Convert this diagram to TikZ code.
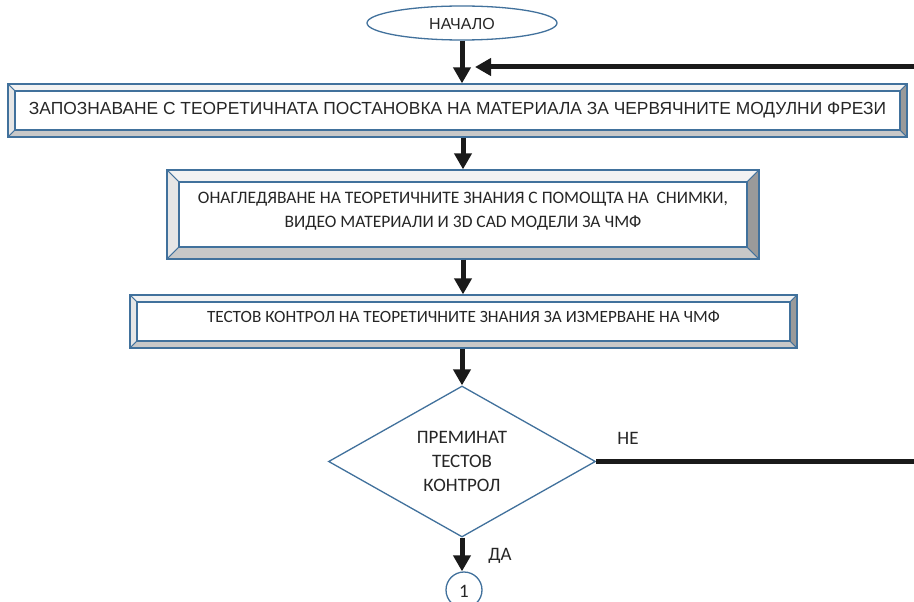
\documentclass[tikz,border=0pt]{standalone}
\usepackage{fontspec}
\usepackage{graphicx}
\setmainfont{Carlito}
\newfontfamily\arialf{Liberation Sans}
\usetikzlibrary{shapes.geometric,arrows.meta}
\definecolor{bblue}{HTML}{41719C}
\definecolor{arrowc}{HTML}{1A1A1A}
\definecolor{bevtop}{HTML}{F2F2F2}
\definecolor{bevleft}{HTML}{E6E6E6}
\definecolor{bevbot}{HTML}{C8C8C8}
\definecolor{bevright}{HTML}{9A9A9A}
\newcommand\bevelpic[1]{%
  \coordinate (bsw) at (path picture bounding box.south west);
  \coordinate (bne) at (path picture bounding box.north east);
  \coordinate (bnw) at (path picture bounding box.north west);
  \coordinate (bse) at (path picture bounding box.south east);
  \coordinate (isw) at ([xshift=#1pt,yshift=#1pt]bsw);
  \coordinate (ine) at ([xshift=-#1pt,yshift=-#1pt]bne);
  \coordinate (inw) at ([xshift=#1pt,yshift=-#1pt]bnw);
  \coordinate (ise) at ([xshift=-#1pt,yshift=#1pt]bse);
  \filldraw[fill=bevtop,draw=bblue,line width=0.8pt] (bnw) -- (bne) -- (ine) -- (inw) -- cycle;
  \filldraw[fill=bevleft,draw=bblue,line width=0.8pt] (bnw) -- (inw) -- (isw) -- (bsw) -- cycle;
  \filldraw[fill=bevbot,draw=bblue,line width=0.8pt] (bsw) -- (isw) -- (ise) -- (bse) -- cycle;
  \filldraw[fill=bevright,draw=bblue,line width=0.8pt] (bse) -- (ise) -- (ine) -- (bne) -- cycle;
  \draw[bblue,line width=1.3pt] (isw) rectangle (ine);
}
\tikzset{
  bevelbox/.style={rectangle, draw=bblue, line width=1.3pt, fill=white,
    inner sep=0pt, path picture={\bevelpic{#1}}},
  conn/.style={draw=arrowc, line width=5pt, -{Triangle[length=16pt,width=17pt]}},
  lbl/.style={inner sep=0pt, font=\fontsize{19}{23}\selectfont, text=black!85},
}
\begin{document}
\begin{tikzpicture}[x=1pt,y=-1pt]
\useasboundingbox (0,0) rectangle (914,602);
\fill[white] (0,0) rectangle (914,602);

\node[ellipse, draw=bblue, line width=1.3pt, fill=white, minimum width=190pt, minimum height=34pt,
  inner sep=0pt, font=\arialf\fontsize{16}{19}\selectfont, text=black!85] (start) at (462,23)
  {\raisebox{-6.7pt}[0pt][0pt]{НАЧАЛО}};

\node[bevelbox=7, minimum width=899pt, minimum height=53pt,
  font=\arialf\fontsize{17.5}{20}\selectfont, text=black!85] (b1) at (457.5,110.5)
  {\raisebox{-4.3pt}[0pt][0pt]{\resizebox{857pt}{\height}{ЗАПОЗНАВАНЕ С ТЕОРЕТИЧНАТА ПОСТАНОВКА НА МАТЕРИАЛА ЗА ЧЕРВЯЧНИТЕ МОДУЛНИ ФРЕЗИ}}};

\node[bevelbox=12, minimum width=592pt, minimum height=89pt,
  font=\fontsize{17.5}{24}\selectfont, text=black!85] (b2) at (463,214.5)
  {\raisebox{-13.1pt}[0pt][0pt]{\begin{tabular}[b]{@{}c@{}}ОНАГЛЕДЯВАНЕ НА ТЕОРЕТИЧНИТЕ ЗНАНИЯ С ПОМОЩТА НА\ \ СНИМКИ,\\ ВИДЕО МАТЕРИАЛИ И 3D CAD МОДЕЛИ ЗА ЧМФ\end{tabular}}};

\node[bevelbox=7, minimum width=667pt, minimum height=53pt,
  font=\fontsize{17.2}{24}\selectfont, text=black!85] (b3) at (463.5,321.5)
  {\raisebox{-1pt}[0pt][0pt]{ТЕСТОВ КОНТРОЛ НА ТЕОРЕТИЧНИТЕ ЗНАНИЯ ЗА ИЗМЕРВАНЕ НА ЧМФ}};

\node[diamond, draw=bblue, line width=1.3pt, fill=white, aspect=1.77,
  minimum width=267pt, minimum height=151pt, inner sep=0pt,
  font=\fontsize{19}{24}\selectfont, text=black!85] (dec) at (462,461.5)
  {\raisebox{-29.6pt}[0pt][0pt]{\begin{tabular}[b]{@{}c@{}}ПРЕМИНАТ\\ ТЕСТОВ\\ КОНТРОЛ\end{tabular}}};

\node[circle, draw=bblue, line width=1.3pt, fill=white, minimum size=36pt, inner sep=0pt,
  font=\fontsize{19}{23}\selectfont, text=black!85] (c1) at (464,590)
  {\raisebox{-7pt}[0pt][0pt]{1}};

\node[lbl, anchor=base] (ne) at (628,444) {НЕ};
\node[lbl, anchor=base] (da) at (500,560) {ДА};

\draw[conn] (start.south) -- (start.south |- b1.north);
\draw[conn] (b1.south -| b2.north) -- (b2.north);
\draw[conn] (b2.south) -- (b2.south |- b3.north);
\draw[conn] (b3.south -| dec.north) -- (dec.north);
\draw[conn] (dec.south) -- (dec.south |- c1.north);
\draw[conn] (dec.east) -- (930,461.5) |- ([xshift=13pt]start.south |- 0,67);
\end{tikzpicture}
\end{document}
